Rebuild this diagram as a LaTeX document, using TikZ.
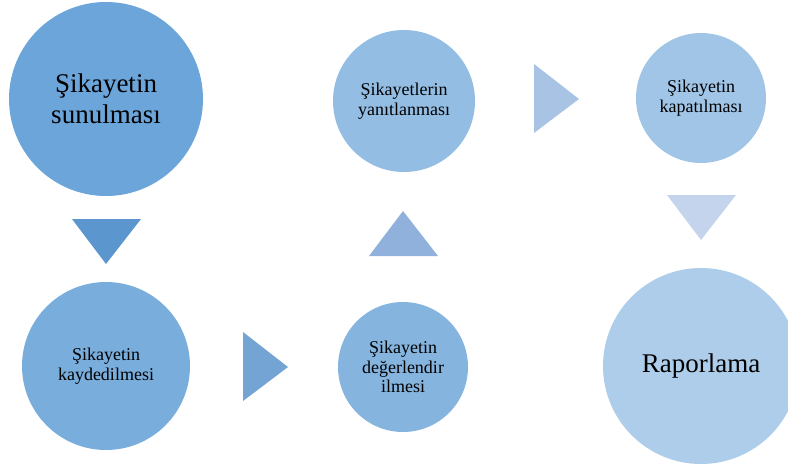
\documentclass[tikz,border=0pt]{standalone}
\usepackage{fontspec}
\setmainfont{Liberation Serif}
\definecolor{cA}{RGB}{108,165,218}
\definecolor{cB}{RGB}{121,174,220}
\definecolor{cC}{RGB}{133,181,223}
\definecolor{cD}{RGB}{147,189,227}
\definecolor{cE}{RGB}{161,197,231}
\definecolor{cF}{RGB}{173,205,234}
\definecolor{tA}{RGB}{91,150,207}
\definecolor{tB}{RGB}{115,164,211}
\definecolor{tC}{RGB}{143,177,220}
\definecolor{tD}{RGB}{169,195,229}
\definecolor{tE}{RGB}{195,212,236}
\tikzset{
  stage/.style={circle,inner sep=0pt,align=center,text=black},
  bigtext/.style={font=\fontsize{27}{31}\selectfont},
  smalltext/.style={font=\fontsize{18}{19.5}\selectfont},
}
\begin{document}
\begin{tikzpicture}[x=1pt,y=-1pt]
\useasboundingbox (0,0) rectangle (788,469);
\clip (0,0) rectangle (788,469);
% stages
\node[stage,fill=cA,minimum size=194pt,bigtext] (s1) at (106,99) {Şikayetin\\sunulması};
\node[stage,fill=cB,minimum size=168pt,smalltext] (s2) at (106,366) {Şikayetin\\kaydedilmesi};
\node[stage,fill=cC,minimum size=130pt,smalltext] (s3) at (403,367) {Şikayetin\\değerlendir\\ilmesi};
\node[stage,fill=cD,minimum size=142pt,smalltext] (s4) at (404,101) {Şikayetlerin\\yanıtlanması};
\node[stage,fill=cE,minimum size=130pt,smalltext] (s5) at (701,98) {Şikayetin\\kapatılması};
\node[stage,fill=cF,minimum size=196pt,bigtext] (s6) at (701,366) {Raporlama};
% arrows (triangles)
\fill[tA] (72,219) -- (141,219) -- (106,264) -- cycle;
\fill[tB] (243,332) -- (243,401) -- (288,367) -- cycle;
\fill[tC] (369,256) -- (438,256) -- (403,211) -- cycle;
\fill[tD] (534,64) -- (534,133) -- (579,99) -- cycle;
\fill[tE] (667,195) -- (736,195) -- (701,240) -- cycle;
\end{tikzpicture}
\end{document}
